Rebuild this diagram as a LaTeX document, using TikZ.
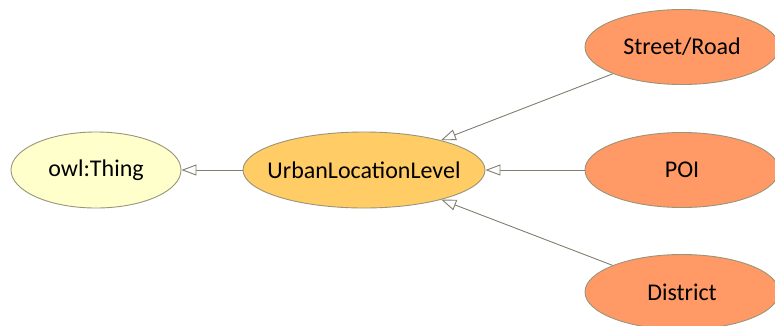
\documentclass[tikz,border=0pt]{standalone}
\usepackage{fontspec}
\setmainfont{Carlito}
\usetikzlibrary{shapes.geometric,arrows.meta}
\definecolor{thingfill}{HTML}{FFFFCC}
\definecolor{urbanfill}{HTML}{FFCC66}
\definecolor{subfill}{HTML}{FF9966}
\definecolor{bordercol}{HTML}{9A9478}
\definecolor{edgecol}{HTML}{7F7F70}
\newcommand{\ctext}[1]{\makebox[0pt][c]{#1}}
\tikzset{
  cls/.style={ellipse, draw=bordercol, line width=0.9pt, inner sep=0pt, font=\fontsize{24}{28}\selectfont, text=black},
  isa/.style={draw=edgecol, line width=0.9pt, -{Triangle[fill=white, length=15pt, width=11pt]}}
}
\begin{document}
\begin{tikzpicture}[x=1pt,y=-1pt]
\useasboundingbox (0,0) rectangle (775,325);
\clip (0,0) rectangle (775,325);
\node[cls, fill=thingfill, minimum width=170pt, minimum height=76pt] (thing) at (96,170) {\ctext{owl:Thing}};
\node[cls, fill=urbanfill, minimum width=242pt, minimum height=76pt] (urban) at (364,170) {\ctext{UrbanLocationLevel}};
\node[cls, fill=subfill, minimum width=194pt, minimum height=75pt] (street) at (682,47) {\ctext{Street/Road}};
\node[cls, fill=subfill, minimum width=194pt, minimum height=75pt] (poi) at (682,170) {\ctext{POI}};
\node[cls, fill=subfill, minimum width=194pt, minimum height=75pt] (district) at (682,292) {\ctext{District}};
\draw[isa] (urban) -- (thing);
\draw[isa] (street) -- (urban);
\draw[isa] (poi) -- (urban);
\draw[isa] (district) -- (urban);
\end{tikzpicture}
\end{document}
